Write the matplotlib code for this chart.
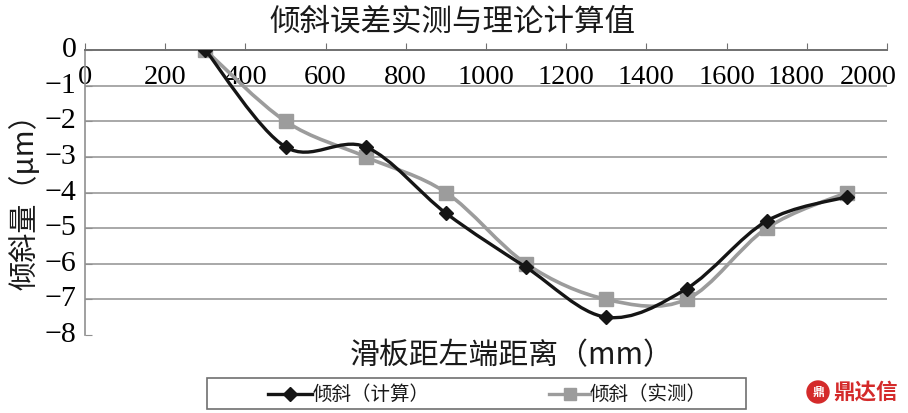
import matplotlib
matplotlib.use("Agg")
import matplotlib.pyplot as plt
import matplotlib.transforms as mtransforms
from matplotlib.path import Path
from matplotlib.patches import PathPatch, Rectangle
from matplotlib.lines import Line2D

x_pos = [300, 500, 700, 900, 1100, 1300, 1500, 1700, 1900]
calc = [0, -2.72, -2.72, -4.58, -6.1, -7.5, -6.7, -4.8, -4.12]
meas = [0, -2, -3, -4, -6, -7, -7, -5, -4]
x_ticks = [0, 200, 400, 600, 800, 1000, 1200, 1400, 1600, 1800, 2000]
y_ticks = [0, -1, -2, -3, -4, -5, -6, -7, -8]
title = "倾斜误差实测与理论计算值"
xlabel = "滑板距左端距离（mm）"
ylabel = "倾斜量（μm）"
names = ["倾斜（计算）", "倾斜（实测）"]

CJK = ["Noto Sans CJK SC", "DejaVu Sans"]
SERIF = ["Liberation Serif", "DejaVu Serif"]

fig = plt.figure(figsize=(9.08, 4.13), dpi=100)
W, H = 908, 413
ax = fig.add_axes([85 / W, 1 - 335 / H, (887 - 85) / W, (335 - 50) / H])
ax.set_xlim(0, 2000)
ax.set_ylim(-8, 0)


def smooth_path(xs, ys):
    pts = list(zip(xs, ys))
    verts = [pts[0]]
    codes = [Path.MOVETO]
    n = len(pts)
    for i in range(n - 1):
        p0 = pts[i - 1] if i > 0 else pts[i]
        p1 = pts[i]
        p2 = pts[i + 1]
        p3 = pts[i + 2] if i + 2 < n else pts[i + 1]
        c1 = (p1[0] + (p2[0] - p0[0]) / 6, p1[1] + (p2[1] - p0[1]) / 6)
        c2 = (p2[0] - (p3[0] - p1[0]) / 6, p2[1] - (p3[1] - p1[1]) / 6)
        verts += [c1, c2, p2]
        codes += [Path.CURVE4] * 3
    return Path(verts, codes)


for yv in y_ticks[1:-1]:
    ax.axhline(yv, color="#9a9a9a", lw=1.2, zorder=1)

c_calc = "#151515"
c_meas = "#9c9c9c"
ax.add_patch(PathPatch(smooth_path(x_pos, meas), fill=False, ec=c_meas, lw=2.6, zorder=3))
ax.plot(x_pos, meas, ls="none", marker="s", ms=10, color=c_meas, zorder=4)
ax.add_patch(PathPatch(smooth_path(x_pos, calc), fill=False, ec=c_calc, lw=2.4, zorder=5))
ax.plot(x_pos, calc, ls="none", marker="D", ms=7.5, color=c_calc, zorder=6)

for s in ["right", "bottom"]:
    ax.spines[s].set_visible(False)
ax.spines["top"].set_color("#707070")
ax.spines["top"].set_linewidth(1.4)
ax.spines["left"].set_color("#909090")
ax.spines["left"].set_linewidth(1.2)

ax.xaxis.set_ticks_position("top")
ax.set_xticks(x_ticks)
ax.set_xticklabels([str(v) for v in x_ticks], family=SERIF, fontsize=20.5)
ax.tick_params(axis="x", direction="out", length=5, color="#707070", pad=-34, labeltop=True)
ax.set_yticks(y_ticks)
ax.set_yticklabels([str(v).replace("-", "\u2212") for v in y_ticks], family=SERIF, fontsize=21.5)
ax.tick_params(axis="y", direction="in", length=5, color="#909090", pad=6)
for lbl in ax.get_yticklabels():
    lbl.set_verticalalignment("center")

# nudge the last tick labels left so they fit, as in the reference
shifts = {1800: -11, 2000: -19}
for tick in ax.xaxis.get_major_ticks():
    v = tick.get_loc()
    if v in shifts:
        off = mtransforms.ScaledTranslation(shifts[v] / 100, 0, fig.dpi_scale_trans)
        tick.label2.set_transform(tick.label2.get_transform() + off)

fig.text(452 / W, 1 - 22 / H, title, ha="center", va="center", family=CJK, fontsize=22, color="#1a1a1a")
fig.text(512 / W, 1 - 356 / H, xlabel, ha="center", va="center", family=CJK, fontsize=21.5, color="#1a1a1a")
fig.text(25 / W, 1 - 195 / H, ylabel, ha="center", va="center", rotation=90, family=CJK, fontsize=21, color="#1a1a1a")

# legend box
fig.patches.append(Rectangle((207 / W, 1 - 409 / H), (746 - 207) / W, (409 - 378) / H,
                             transform=fig.transFigure, fill=False, ec="#707070", lw=1.2))
ly = 1 - 394 / H
fig.lines.append(Line2D([268 / W, 312 / W], [ly, ly], color=c_calc, lw=2.4, transform=fig.transFigure))
fig.lines.append(Line2D([290 / W], [ly], color=c_calc, marker="D", ms=7.5, ls="none", transform=fig.transFigure))
fig.text(313 / W, ly, names[0], ha="left", va="center", family=CJK, fontsize=14, color="#1a1a1a")
fig.lines.append(Line2D([549 / W, 590 / W], [ly, ly], color=c_meas, lw=2.4, transform=fig.transFigure))
fig.lines.append(Line2D([570 / W], [ly], color=c_meas, marker="s", ms=9, ls="none", transform=fig.transFigure))
fig.text(590 / W, ly, names[1], ha="left", va="center", family=CJK, fontsize=14, color="#1a1a1a")

# watermark
fig.text(866 / W, 1 - 392 / H, "鼎达信", ha="center", va="center", family=CJK, fontsize=15.5,
         fontweight="bold", color="#d42a2a")
fig.patches.append(Rectangle((807 / W, 1 - 403 / H), 22 / W, 22 / H, transform=fig.transFigure,
                             fill=False, ec="none"))
circ = matplotlib.patches.Ellipse((818 / W, 1 - 392 / H), 22 / W, 22 / H, transform=fig.transFigure,
                                  fc="#d42a2a", ec="#d42a2a", lw=1)
fig.patches.append(circ)
fig.text(818 / W, 1 - 392 / H, "鼎", ha="center", va="center", family=CJK, fontsize=8.5,
         fontweight="bold", color="white")

fig.savefig("out.png", dpi=100)
